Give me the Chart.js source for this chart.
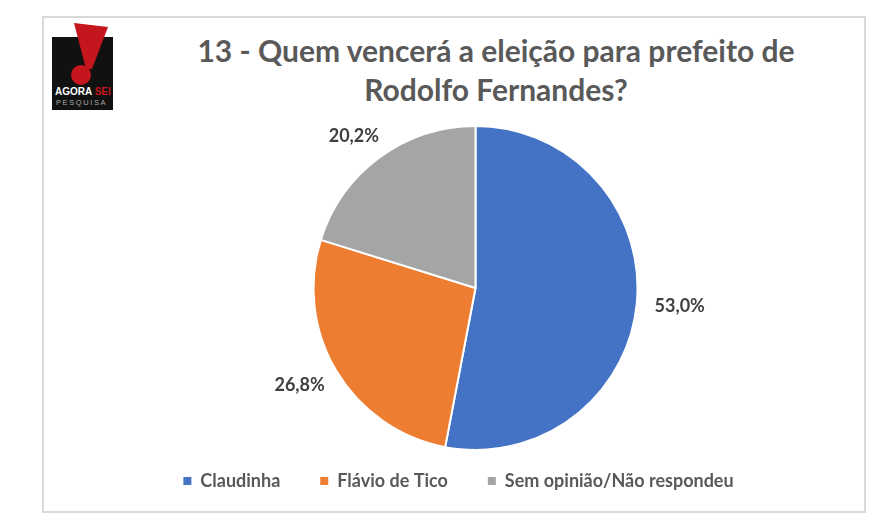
<!DOCTYPE html>
<html>
<head>
<meta charset="utf-8">
<script src="https://cdn.jsdelivr.net/npm/chart.js@4"></script>
<style>
  body { margin: 0; background: #fff; }
  #wrap { position: relative; width: 881px; height: 530px; }
  #frame { position: absolute; left: 42px; top: 16px; width: 820px; height: 493px; border: 2px solid #d9d9d9; }
  #logo { position: absolute; left: 50px; top: 20px; }
  #title { position: absolute; left: 186px; width: 620px; top: 31px; text-align: center;
           font-family: Lato, sans-serif; font-weight: bold; font-size: 30px; line-height: 39px; color: #595959; }
  #myChart { position: absolute; left: 0; top: 0; }
</style>
</head>
<body>
<div id="wrap">
  <div id="frame"></div>
  <svg id="logo" width="70" height="95" viewBox="0 0 70 95">
    <rect x="2" y="17" width="61" height="73" fill="#111"/>
    <polygon points="24,3 58,7 42,49 36,49" fill="#c4161c"/>
    <circle cx="31" cy="55" r="10" fill="#c4161c"/>
    <text x="5" y="75" font-family="Liberation Sans, sans-serif" font-weight="bold" font-size="10" fill="#fff">AGORA <tspan fill="#c4161c">SEI</tspan></text>
    <text x="6" y="85" font-family="Liberation Sans, sans-serif" font-size="7.5" letter-spacing="1.6" fill="#aaa">PESQUISA</text>
  </svg>
  <div id="title">13 - Quem vencerá a eleição para prefeito de<br>Rodolfo Fernandes?</div>
  <canvas id="myChart" width="881" height="530"></canvas>
</div>
<script>
// chart data
var labels = ['Claudinha', 'Flávio de Tico', 'Sem opinião/Não respondeu'];
var values = [53.0, 26.8, 20.2];
var colors = ['#4472C4', '#ED7D31', '#A5A5A5'];

// draws the percentage labels just outside each slice
var outsideLabels = {
    id: 'outsideLabels',
    afterDatasetsDraw: function (chart) {
        var ctx = chart.ctx;
        var meta = chart.getDatasetMeta(0);
        ctx.save();
        ctx.font = 'bold 18px Lato, sans-serif';
        ctx.fillStyle = '#404040';
        ctx.textAlign = 'center';
        ctx.textBaseline = 'middle';
        meta.data.forEach(function (arc, i) {
            var mid = (arc.startAngle + arc.endAngle) / 2;
            var dx = Math.cos(mid), dy = Math.sin(mid);
            var txt = values[i].toFixed(1).replace('.', ',') + '%';
            var w = ctx.measureText(txt).width, h = 18;
            var r = arc.outerRadius + 18;
            var x = arc.x + r * dx + dx * w / 2;
            var y = arc.y + r * dy + dy * h / 2;
            ctx.fillText(txt, x, y);
        });
        ctx.restore();
    }
};

// legend in the original sits a bit left of the pie centre
var legendShift = {
    id: 'legendShift',
    afterLayout: function (chart) {
        chart.legend.left -= 17;
        chart.legend.right -= 17;
    }
};

var ctx = document.getElementById('myChart').getContext('2d');
var myPieChart = new Chart(ctx, {
    type: 'pie',
    data: {
        labels: labels,
        datasets: [{
            data: values,
            backgroundColor: colors,
            borderColor: '#fff',
            borderWidth: 2,
            radius: 162
        }]
    },
    options: {
        responsive: false,
        animation: false,
        layout: { padding: { top: 144, bottom: 30, left: 70, right: 0 } },
        plugins: {
            tooltip: { enabled: false },
            legend: {
                position: 'bottom',
                labels: {
                    boxWidth: 8,
                    boxHeight: 8,
                    padding: 40,
                    color: '#595959',
                    font: { family: 'Lato, sans-serif', size: 18, weight: 'bold' },
                    generateLabels: function (chart) {
                        return labels.map(function (l, i) {
                            return { text: l, fillStyle: colors[i], strokeStyle: colors[i], lineWidth: 0, index: i, fontColor: '#595959' };
                        });
                    }
                }
            }
        }
    },
    plugins: [outsideLabels, legendShift]
});
</script>
</body>
</html>
